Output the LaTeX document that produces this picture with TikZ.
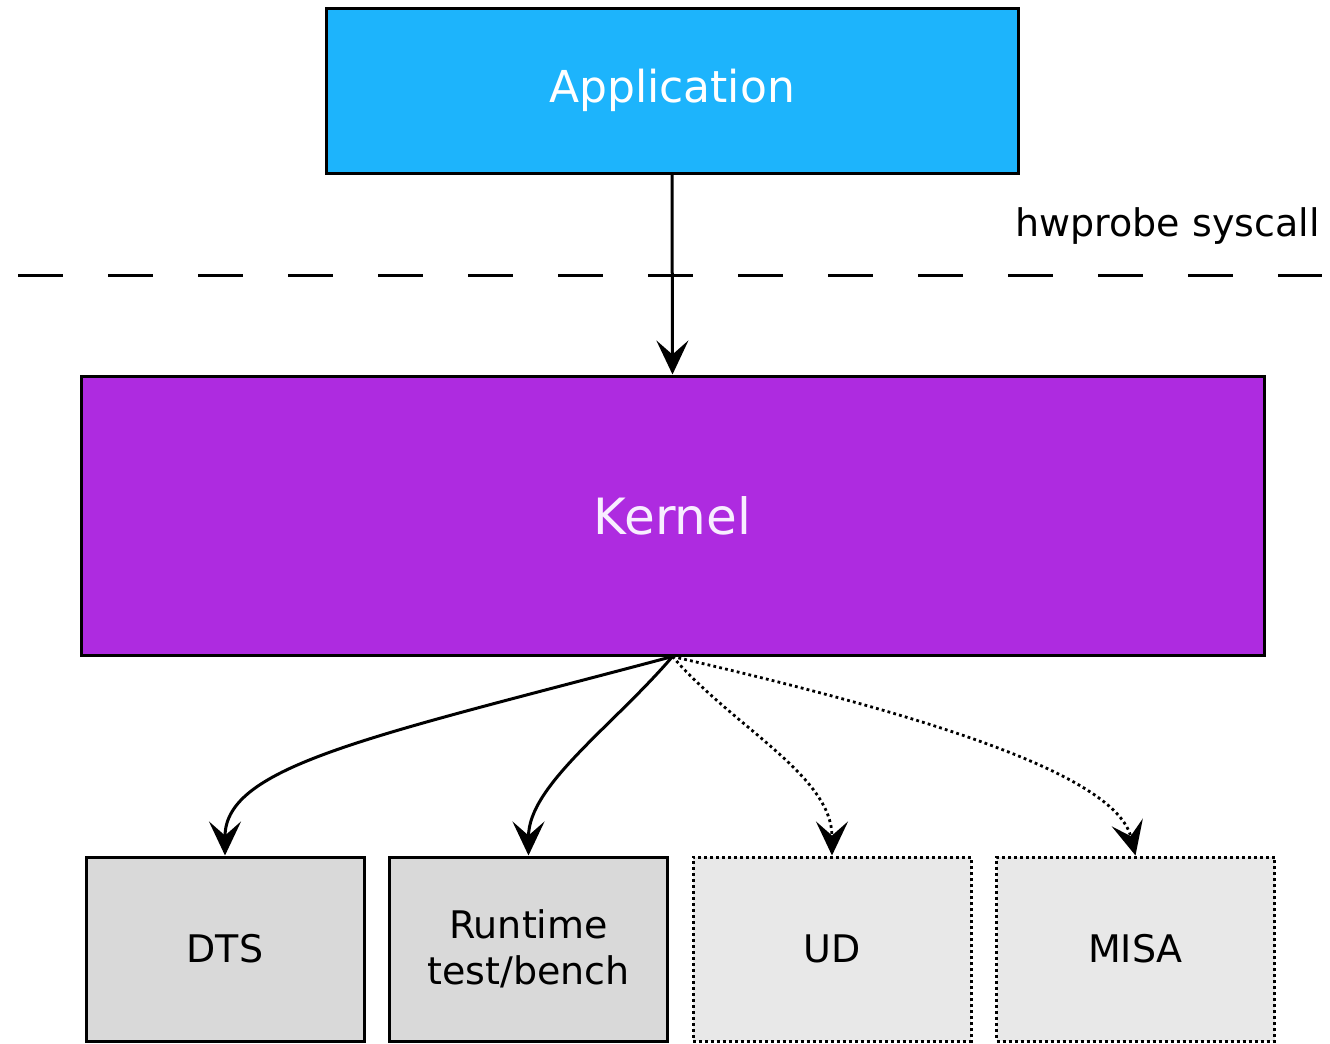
\documentclass[tikz,border=0pt]{standalone}
\usepackage{fontspec}
\setmainfont{DejaVu Sans}
\usetikzlibrary{arrows.meta,positioning,calc}
\definecolor{APP-BLUE}{RGB}{29, 180, 252}
\definecolor{KER-PURPLE}{RGB}{174, 43, 224}
\definecolor{BOX-GRAY}{RGB}{217, 217, 217}
\definecolor{OPT-GRAY}{RGB}{232, 232, 232}
\definecolor{KER-TEXT}{RGB}{248, 238, 255}

\begin{document}
\begin{tikzpicture}[x=0.5pt, y=-0.5pt,
    >={Stealth[length=17pt, width=16pt, inset=7pt]},
    block/.style={draw=black, line width=1.5pt, inner sep=0pt},
    leaf/.style={block, fill=BOX-GRAY, minimum width=139pt, minimum height=92pt,
      align=center, font=\fontsize{19}{23}\selectfont},
    optleaf/.style={leaf, fill=OPT-GRAY, dash pattern=on 1.5pt off 1.5pt},
    link/.style={->, line width=1.5pt},
    optlink/.style={->, line width=1.4pt, dash pattern=on 1.4pt off 1.6pt}]
  \useasboundingbox (0,0) rectangle (1330,1044);

  % Application (top box)
  \node[block, fill=APP-BLUE, minimum width=346pt, minimum height=82.5pt,
    text=white, font=\fontsize{22}{26}\selectfont] (app) at (672,90.5) {Application};

  % User/kernel border
  \coordinate (bl) at (18,275);
  \coordinate (br) at (1322,275);
  \draw[line width=1.5pt, dash pattern=on 22.5pt off 22.5pt] (bl) -- (br);
  \node[anchor=base east, inner sep=0pt, font=\fontsize{19}{23}\selectfont] (sys) at (1320,236) {hwprobe syscall};

  % Kernel (middle box)
  \node[block, fill=KER-PURPLE, minimum width=591.5pt, minimum height=139.5pt,
    text=KER-TEXT, font=\fontsize{25}{30}\selectfont] (kernel) at (672.5,515.5) {Kernel};

  % Sources (bottom boxes)
  \node[leaf] (dts) at (225,949) {DTS};
  \node[leaf] (run) at (528.5,949) {Runtime\\test/bench};
  \node[optleaf] (ud) at (832,949) {UD};
  \node[optleaf] (misa) at (1135.5,949) {MISA};

  % Connections
  \draw[link] (app.south) -- (kernel.north);
  \draw[link] (kernel.south) .. controls +(-300,80) and +(0,-90) .. (dts.north);
  \draw[link] (kernel.south) .. controls +(-60,70) and +(0,-70) .. (run.north);
  \draw[optlink] (kernel.south) .. controls +(60,70) and +(0,-80) .. (ud.north);
  \draw[optlink] (kernel.south) .. controls +(260,60) and +(-20,-80) .. (misa.north);
\end{tikzpicture}
\end{document}
